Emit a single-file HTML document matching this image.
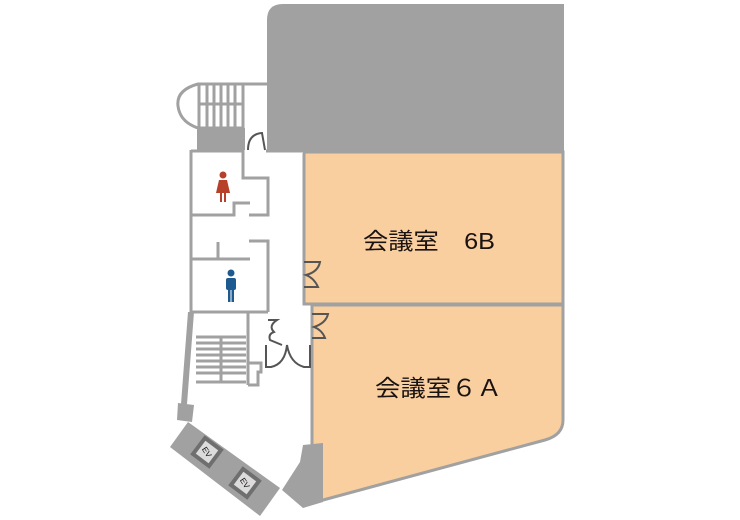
<!DOCTYPE html>
<html><head><meta charset="utf-8"><style>
html,body{margin:0;padding:0;background:#fff;}
svg{display:block}
text{font-family:"Liberation Sans","Noto Sans CJK JP",sans-serif;fill:#1a1311}
</style></head><body>
<svg width="740" height="520" viewBox="0 0 740 520" xmlns="http://www.w3.org/2000/svg">
<path d="M267,20 Q267,4 283,4 L564,4 L564,152 L267,152 Z" fill="#a0a1a0"/>
<rect x="304" y="152" width="259" height="152" fill="#f9cf9f" stroke="#a0a1a0" stroke-width="3"/>
<path d="M312,305 L563,305 L563,420 Q563,435 545,440 L312,503 Z" fill="#f9cf9f" stroke="#a0a1a0" stroke-width="3"/>
<g fill="none" stroke="#a0a1a0" stroke-width="3">
<path d="M268,84 L198,84 Q176,90 178,106 Q180,122 198,128"/>
<rect x="199" y="84" width="44" height="44"/>
<line x1="199" y1="104" x2="243" y2="104"/>
<line x1="207" y1="84" x2="207" y2="128"/><line x1="214" y1="84" x2="214" y2="128"/>
<line x1="221" y1="84" x2="221" y2="128"/><line x1="228" y1="84" x2="228" y2="128"/>
<line x1="235" y1="84" x2="235" y2="128"/>
</g>
<rect x="197" y="128" width="48" height="22" fill="#a0a1a0"/>
<g fill="none" stroke="#a0a1a0" stroke-width="3">
<path d="M191,150 L191,312"/>
<path d="M191,151 L243,151 L243,178 L268,178 L268,215 L249,215"/>
<path d="M266,151 L302,151"/>
<path d="M191,215 L234,215 L234,203 L250,203"/>
<path d="M249,241 L268,241 L268,312"/>
<path d="M218,242 L218,259"/><path d="M191,259 L250,259"/>
<path d="M191,312 L268,312"/>
<path d="M248,312 L248,385"/>
<path d="M248,363 L261,363 L261,372 L258,372 L258,385 L248,385"/>
<path d="M196,337 L246,337 M196,343 L246,343 M196,349 L246,349 M196,355 L246,355 M196,361 L246,361 M196,367 L246,367 M196,373 L246,373 M196,382 L246,382 M221,337 L221,382"/>
</g>
<path d="M188,312 L194,312 L187,404 L181,404 Z" fill="#a0a1a0"/>
<path d="M178,403 L194,405 L192,422 L177,420 Z" fill="#a0a1a0"/>
<path d="M170,447 L188,422 L280,488 L260,516 Z" fill="#a0a1a0"/>
<g transform="translate(207,452) rotate(37)"><rect x="-12" y="-12" width="24" height="24" fill="#6f6f6f"/><rect x="-8" y="-8" width="16" height="16" fill="#dcdcdc"/><text x="0" y="3" font-size="8" text-anchor="middle" transform="rotate(20)">EV</text></g>
<g transform="translate(245,483) rotate(37)"><rect x="-12" y="-12" width="24" height="24" fill="#6f6f6f"/><rect x="-8" y="-8" width="16" height="16" fill="#dcdcdc"/><text x="0" y="3" font-size="8" text-anchor="middle" transform="rotate(20)">EV</text></g>
<path d="M303,445 L323,443 L323,502 L303,508 L282,490 L300,462 Z" fill="#a0a1a0"/>
<g fill="none" stroke="#555" stroke-width="2">
<path d="M248,150 Q248,134 262,133 L265,150"/>
<path d="M304,262 L320,262 Q318,272 306,275 Q314,278 318,287 L304,287"/>
<path d="M312,314 L328,314 Q326,323 314,327 Q322,330 325,338 L312,338"/>
<path d="M268,320 L277,320 Q268,326 274,332 Q268,334 270,340 L282,345"/>
<path d="M266,345 L266,367 L271,367 Q285,364 287,345 Q290,363 304,367 L310,367 L310,345"/>
</g>
<g fill="#b7402a">
<circle cx="223" cy="175" r="3.5"/>
<path d="M219,180 L227,180 L230,193 L216,193 Z"/>
<rect x="220" y="193" width="2" height="9"/><rect x="224" y="193" width="2" height="9"/>
</g>
<g fill="#1d5a8f">
<circle cx="231" cy="273" r="3.5"/>
<rect x="226" y="278" width="10" height="12" rx="2"/>
<rect x="228" y="288" width="2.5" height="14"/><rect x="231.5" y="288" width="2.5" height="14"/>
</g>
<text x="363" y="249" font-size="23" textLength="132" lengthAdjust="spacingAndGlyphs">会議室　6B</text>
<text x="375" y="396" font-size="23" textLength="127" lengthAdjust="spacingAndGlyphs">会議室６Ａ</text>
</svg>
</body></html>
